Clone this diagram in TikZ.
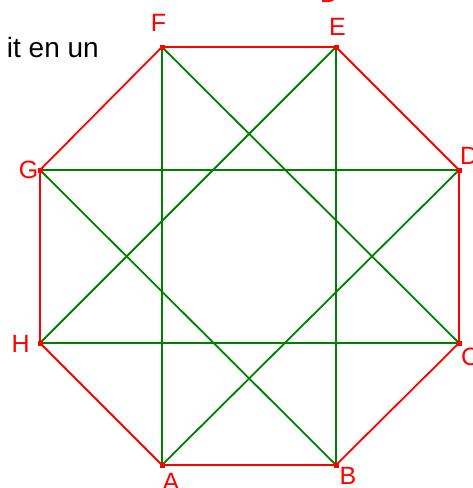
\documentclass[tikz,border=0pt]{standalone}
\usepackage{fontspec}
\setmainfont{Liberation Sans}
\definecolor{stargreen}{RGB}{0,128,0}

\tikzset{
  side/.style={red, line width=1.8pt},
  starline/.style={stargreen, line width=1.8pt},
  lbl/.style={red, inner sep=0pt, font=\fontsize{25}{30}\selectfont},
}

\begin{document}
\begin{tikzpicture}[x=1pt, y=-1pt]

\useasboundingbox (0,0) rectangle (472,488);

% Text cut off at the left
\node[anchor=base east, inner sep=0pt, font=\fontsize{28}{34}\selectfont] (txt) at (99,57) {it en un};

% Vertices of the octagon
\coordinate (A) at (162,465);
\coordinate (B) at (336,465);
\coordinate (C) at (459,343);
\coordinate (D) at (459,170);
\coordinate (E) at (336,47);
\coordinate (F) at (162,47);
\coordinate (G) at (40,170);
\coordinate (H) at (40,343);

% Star {8/3}
\foreach \p/\q in {A/D,A/F,B/E,B/G,C/F,C/H,D/G,E/H}
  \draw[starline] (\p) -- (\q);

% Octagon
\draw[side] (A) -- (B) -- (C) -- (D) -- (E) -- (F) -- (G) -- (H) -- cycle;

% Vertex markers
\foreach \v in {A,B,C,D,E,F,G,H}
  \fill[red] (\v) ++(-2.5,-2.5) rectangle ++(5,5);

% Labels
\node[lbl, anchor=base, xshift=9pt, yshift=-25pt] (lA) at (A) {A};
\node[lbl, anchor=base, xshift=12pt, yshift=-19pt] (lB) at (B) {B};
\node[lbl, anchor=base west, xshift=2pt, yshift=-22pt] (lC) at (C) {C};
\node[lbl, anchor=base west, xshift=1pt, yshift=6pt] (lD) at (D) {D};
\node[lbl, anchor=base, xshift=1.5pt, yshift=12pt] (lE) at (E) {E};
\node[lbl, anchor=base, xshift=-3.5pt, yshift=16pt] (lF) at (F) {F};
\node[lbl, anchor=base east, xshift=-1.5pt, yshift=-8pt] (lG) at (G) {G};
\node[lbl, anchor=base east, xshift=-10pt, yshift=-9pt] (lH) at (H) {H};

% Label of another figure, cut off at the top
\node[lbl, anchor=base west] (lD2) at (320,2) {D};

\end{tikzpicture}
\end{document}
